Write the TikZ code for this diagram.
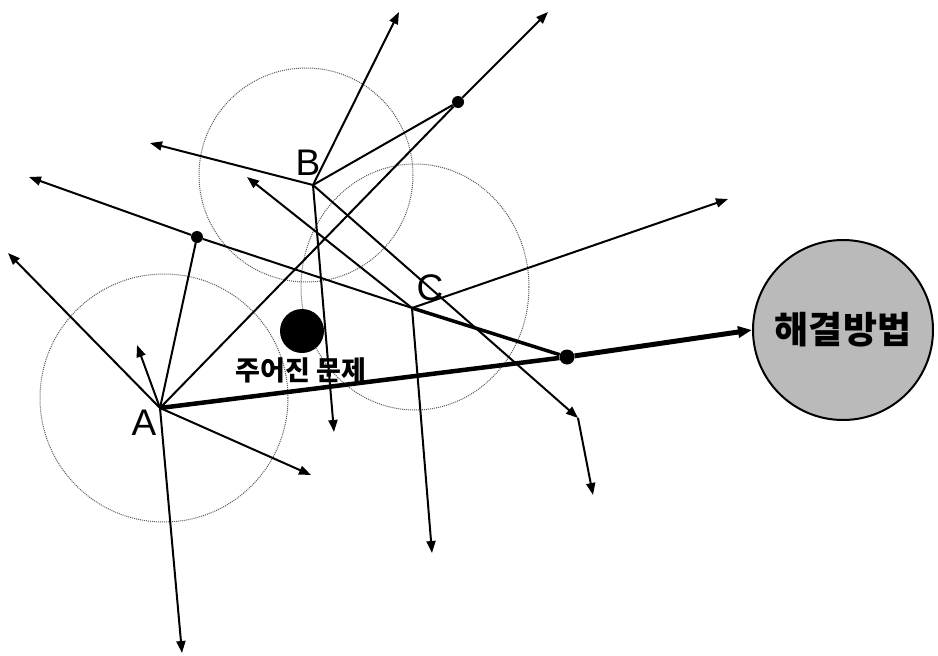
\documentclass[tikz,border=0pt]{standalone}
\usepackage{fontspec}
\setmainfont{Liberation Sans}
\newfontfamily\kr{Noto Sans CJK KR}
\usetikzlibrary{arrows.meta}
\begin{document}
\begin{tikzpicture}[x=1pt,y=-1pt,
  ray/.style={line width=2pt, -{Triangle[length=12pt,width=9pt]}},
  seg/.style={line width=2pt},
  heavy/.style={line width=4.5pt},
  ring/.style={draw=black!65, densely dotted, line width=1pt},
  dotpt/.style={circle, fill=black, inner sep=0pt, minimum size=12pt},
  lbl/.style={inner sep=0pt, font=\fontsize{37}{37}\selectfont}]
\useasboundingbox (0,0) rectangle (938,656);
% circles
\draw[ring] (164,398) circle[radius=124];
\draw[ring] (306,175) circle[radius=107];
\draw[ring] (415,287) ellipse[x radius=114, y radius=123];
% vertices
\coordinate (A) at (160,408);
\coordinate (B) at (313,185);
\coordinate (C) at (412,308);
\coordinate (K) at (578,418);
\node[dotpt] (D1) at (197,237) {};
\node[dotpt] (D2) at (458,102) {};
\node[dotpt, minimum size=15pt] (D3) at (567,357) {};
% free ends
\coordinate (a1) at (8,253);
\coordinate (a2) at (137,345);
\coordinate (a3) at (311,475);
\coordinate (a4) at (182,653);
\coordinate (e1) at (29,177);
\coordinate (b1) at (399,12);
\coordinate (b2) at (150,143);
\coordinate (b3) at (334,432);
\coordinate (d2e) at (548,12);
\coordinate (c1) at (728,199);
\coordinate (c2) at (432,553);
\coordinate (c3) at (247,177);
\coordinate (k2) at (593,495);
% problem and solution
\node[circle, fill=black, inner sep=0pt, minimum size=44pt] (prob) at (302,331) {};
\node[inner sep=0pt, font=\kr\bfseries\fontsize{27}{27}\selectfont] (probtxt) at (301,370) {주어진 문제};
\node[circle, draw=black, line width=2pt, fill=black!27, minimum size=180pt, inner sep=0pt,
      font=\kr\bfseries\fontsize{37}{37}\selectfont] (sol) at (843,330) {해결방법};
% rays from A
\draw[ray] (A) -- (a1);
\draw[ray] (A) -- (a2);
\draw[ray] (A) -- (a3);
\draw[ray] (A) -- (a4);
\draw[seg] (A) -- (D1);
\draw[seg] (A) -- (D2);
\draw[ray] (D1) -- (e1);
\draw[seg] (D1) -- (C);
% rays from B
\draw[ray] (B) -- (b1);
\draw[ray] (B) -- (b2);
\draw[ray] (B) -- (b3);
\draw[seg] (B) -- (D2);
\draw[ray] (D2) -- (d2e);
\draw[ray] (B) -- (K);
\draw[ray] (K) -- (k2);
% rays from C
\draw[ray] (C) -- (c1);
\draw[ray] (C) -- (c2);
\draw[ray] (C) -- (c3);
\draw[line width=3.5pt] (C) -- (D3);
% main path
\draw[heavy] (A) -- (D3);
\draw[line width=5pt, -{Triangle[length=14pt,width=11pt]}] (D3) -- (sol.west);
% labels
\node[lbl] (la) at (144,423) {A};
\node[lbl] (lb) at (308,163) {B};
\node[lbl] (lc) at (430,288) {C};
\end{tikzpicture}
\end{document}
